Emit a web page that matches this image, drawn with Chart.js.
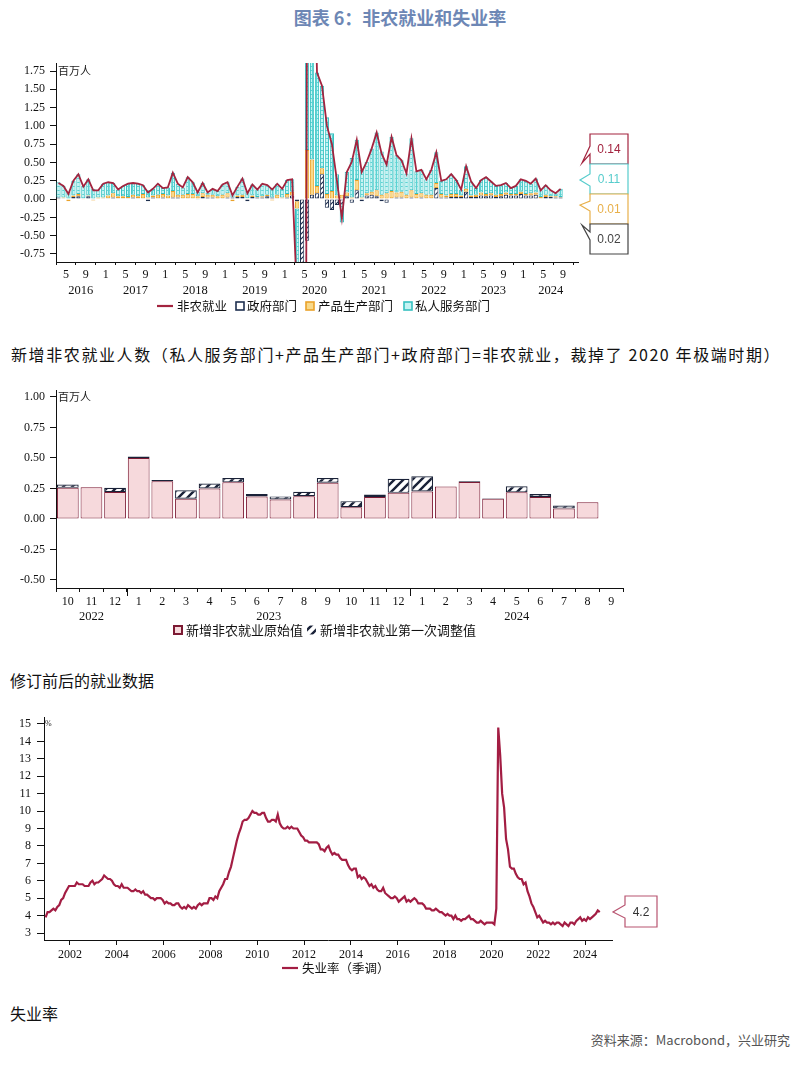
<!DOCTYPE html>
<html>
<head>
<meta charset="utf-8">
<script src="https://cdn.jsdelivr.net/npm/chart.js@4.4.1/dist/chart.umd.min.js"></script>
<style>
  body { margin: 0; background: #fff; width: 800px; height: 1065px; position: relative; overflow: hidden;
         font-family: "Noto Sans CJK SC", sans-serif; }
  .t { position: absolute; white-space: nowrap; color: #111; line-height: 20px; }
  canvas { position: absolute; left: 0; }
</style>
</head>
<body>
<div class="t" style="left:0;width:800px;text-align:center;top:7px;font-size:18px;font-weight:bold;color:#6d87b5">图表 6：非农就业和失业率</div>
<canvas id="c1" width="800" height="275" style="top:50px"></canvas>
<div class="t" style="left:11px;top:344px;font-size:16px;letter-spacing:1.6px">新增非农就业人数（私人服务部门+产品生产部门+政府部门=非农就业，裁掉了 2020 年极端时期）</div>
<canvas id="c2" width="800" height="275" style="top:370px"></canvas>
<div class="t" style="left:10px;top:670px;font-size:16px">修订前后的就业数据</div>
<canvas id="c3" width="800" height="285" style="top:700px"></canvas>
<div class="t" style="left:10px;top:1003px;font-size:16px">失业率</div>
<div class="t" style="right:10px;top:1030px;font-size:13px;color:#555">资料来源：Macrobond，兴业研究</div>

<script>
const SERIF = '"Liberation Serif", "Times New Roman", serif';
const CJK = '"Noto Sans CJK SC", sans-serif';

// ---- chart 1: monthly change, millions, 2016-03 .. 2024-08 ----
const nfpStartYear = 2016;
const nfpStartMonth = 3;
const nfpTotal = [
  0.22, 0.18, 0.07, 0.25, 0.34, 0.17, 0.27, 0.12, 0.12, 0.21,                   // 2016
  0.23, 0.22, 0.13, 0.18, 0.21, 0.22, 0.21, 0.19, 0.09, 0.14, 0.21, 0.15,       // 2017
  0.16, 0.36, 0.21, 0.16, 0.30, 0.23, 0.09, 0.22, 0.09, 0.14, 0.11, 0.20,       // 2018
  0.23, 0.05, 0.17, 0.28, 0.08, 0.20, 0.13, 0.21, 0.19, 0.13, 0.21, 0.14,       // 2019
  0.26, 0.27, -1.37, -20.47, 2.79, 4.78, 1.73, 1.55, 1.00, 0.75, 0.26, -0.26,  // 2020
  0.37, 0.51, 0.81, 0.37, 0.51, 0.69, 0.91, 0.62, 0.47, 0.85, 0.60, 0.53,       // 2021
  0.35, 0.83, 0.38, 0.40, 0.27, 0.40, 0.64, 0.25, 0.27, 0.34, 0.26, 0.13,       // 2022
  0.45, 0.24, 0.15, 0.26, 0.30, 0.24, 0.18, 0.19, 0.22, 0.15, 0.18, 0.27,       // 2023
  0.25, 0.21, 0.28, 0.12, 0.19, 0.12, 0.08, 0.14                                // 2024
];
const nfpGov = [
  0.02, 0.01, 0.00, 0.03, 0.04, 0.01, 0.04, -0.01, 0.00, 0.01,
  0.01, 0.02, 0.01, 0.01, 0.01, 0.02, 0.01, 0.01, -0.03, 0.02, 0.01, 0.02,
  0.01, 0.02, 0.02, 0.01, 0.01, 0.01, -0.01, 0.03, 0.02, 0.02, 0.00, 0.01,
  0.02, 0.02, 0.03, 0.03, -0.03, 0.03, 0.02, 0.02, 0.04, 0.02, 0.01, 0.01,
  0.02, 0.05, -0.03, -0.98, -0.57, 0.06, 0.08, 0.34, -0.12, -0.15, -0.08, -0.07,
  0.04, -0.05, 0.12, -0.03, 0.05, 0.06, 0.04, -0.03, -0.05, 0.01, 0.02, 0.02,
  0.01, 0.02, 0.01, 0.02, 0.01, 0.01, 0.15, 0.02, 0.02, 0.03, 0.03, 0.03,
  0.10, 0.03, 0.03, 0.05, 0.04, 0.05, 0.03, 0.04, 0.06, 0.05, 0.05, 0.07,
  0.05, 0.05, 0.06, 0.01, 0.03, 0.03, 0.02, 0.02
];
const nfpGoods = [
  -0.01, 0.01, -0.03, 0.02, 0.03, -0.01, 0.01, -0.01, 0.02, 0.01,
  0.04, 0.06, 0.03, 0.03, 0.02, 0.04, 0.03, 0.06, 0.02, 0.03, 0.05, 0.05,
  0.04, 0.09, 0.04, 0.05, 0.06, 0.06, 0.04, 0.05, 0.04, 0.04, 0.04, 0.05,
  0.06, -0.03, 0.02, 0.03, 0.01, 0.02, 0.01, 0.02, 0.02, -0.02, 0.05, 0.01,
  0.05, 0.05, -0.10, -2.35, 0.67, 0.48, 0.10, 0.08, 0.07, 0.11, 0.05, 0.06,
  0.05, 0.02, 0.14, 0.02, 0.03, 0.04, 0.08, 0.06, 0.08, 0.10, 0.07, 0.08,
  0.05, 0.10, 0.06, 0.06, 0.05, 0.05, 0.07, 0.05, 0.03, 0.04, 0.04, 0.02,
  0.04, 0.02, 0.03, 0.04, 0.03, 0.03, 0.03, 0.03, 0.03, 0.02, 0.02, 0.03,
  0.02, 0.03, 0.03, 0.02, 0.03, 0.01, 0.02, 0.01
];
const nfpServices = [
  0.21, 0.16, 0.10, 0.20, 0.27, 0.17, 0.22, 0.14, 0.10, 0.19,
  0.18, 0.14, 0.09, 0.14, 0.18, 0.16, 0.17, 0.12, 0.10, 0.09, 0.15, 0.08,
  0.11, 0.25, 0.15, 0.10, 0.23, 0.16, 0.06, 0.14, 0.03, 0.08, 0.07, 0.14,
  0.15, 0.06, 0.12, 0.22, 0.10, 0.15, 0.10, 0.17, 0.13, 0.13, 0.15, 0.12,
  0.19, 0.17, -1.24, -17.14, 2.69, 4.24, 1.55, 1.13, 1.05, 0.79, 0.29, -0.25,
  0.28, 0.54, 0.55, 0.38, 0.43, 0.59, 0.79, 0.59, 0.44, 0.74, 0.51, 0.43,
  0.29, 0.71, 0.31, 0.32, 0.21, 0.34, 0.42, 0.18, 0.22, 0.27, 0.19, 0.08,
  0.31, 0.19, 0.09, 0.17, 0.23, 0.16, 0.12, 0.12, 0.13, 0.08, 0.11, 0.17,
  0.18, 0.13, 0.19, 0.09, 0.13, 0.08, 0.04, 0.11
];
const nfpAxisMonths = 105;            // axis runs 2016-03 .. 2024-12
const nfpTickMonths = [1, 5, 9];
const nfpYears = [2016, 2017, 2018, 2019, 2020, 2021, 2022, 2023, 2024];
const nfpYTicks = [-0.75, -0.5, -0.25, 0, 0.25, 0.5, 0.75, 1, 1.25, 1.5, 1.75];

// ---- chart 2: first print vs first revision, millions ----
const revCats = ['2022-10', '2022-11', '2022-12',
  '2023-01', '2023-02', '2023-03', '2023-04', '2023-05', '2023-06',
  '2023-07', '2023-08', '2023-09', '2023-10', '2023-11', '2023-12',
  '2024-01', '2024-02', '2024-03', '2024-04', '2024-05', '2024-06',
  '2024-07', '2024-08', '2024-09'];
const revFirst = [0.255, 0.26, 0.22, 0.50, 0.31, 0.165, 0.25, 0.30, 0.185, 0.16, 0.187, 0.297,
  0.096, 0.18, 0.214, 0.226, 0.267, 0.303, 0.165, 0.218, 0.18, 0.085, 0.136];
const revAdjust = [0.028, null, 0.035, 0.012, 0.01, 0.07, 0.04, 0.035, 0.02, 0.025, 0.035, 0.038,
  0.05, 0.02, 0.116, 0.123, null, 0.006, 0.005, 0.05, 0.025, 0.025, null];
const revYTicks = [-0.5, -0.25, 0, 0.25, 0.5, 0.75, 1];

// ---- chart 3: unemployment rate (SA), %, 2000-12 .. 2024-08 ----
const urStartYear = 2000;
const urStartMonth = 12;
const urate = [
  3.9,
  4.2, 4.2, 4.3, 4.4, 4.3, 4.5, 4.6, 4.9, 5.0, 5.3, 5.5, 5.7,   // 2001
  5.7, 5.7, 5.7, 5.9, 5.8, 5.8, 5.8, 5.7, 5.7, 5.7, 5.9, 6.0,   // 2002
  5.8, 5.9, 5.9, 6.0, 6.1, 6.3, 6.2, 6.1, 6.1, 6.0, 5.8, 5.7,   // 2003
  5.7, 5.6, 5.8, 5.6, 5.6, 5.6, 5.5, 5.4, 5.4, 5.5, 5.4, 5.4,   // 2004
  5.3, 5.4, 5.2, 5.2, 5.1, 5.0, 5.0, 4.9, 5.0, 5.0, 5.0, 4.9,   // 2005
  4.7, 4.8, 4.7, 4.7, 4.6, 4.6, 4.7, 4.7, 4.5, 4.4, 4.5, 4.4,   // 2006
  4.6, 4.5, 4.4, 4.5, 4.4, 4.6, 4.7, 4.6, 4.7, 4.7, 4.7, 5.0,   // 2007
  5.0, 4.9, 5.1, 5.0, 5.4, 5.6, 5.8, 6.1, 6.1, 6.5, 6.8, 7.3,   // 2008
  7.8, 8.3, 8.7, 9.0, 9.4, 9.5, 9.5, 9.6, 9.8, 10.0, 9.9, 9.9,  // 2009
  9.8, 9.8, 9.9, 9.9, 9.6, 9.4, 9.4, 9.5, 9.5, 9.4, 9.8, 9.3,   // 2010
  9.1, 9.0, 9.0, 9.1, 9.0, 9.1, 9.0, 9.0, 9.0, 8.8, 8.6, 8.5,   // 2011
  8.3, 8.3, 8.2, 8.2, 8.2, 8.2, 8.2, 8.1, 7.8, 7.8, 7.7, 7.9,   // 2012
  8.0, 7.7, 7.5, 7.6, 7.5, 7.5, 7.3, 7.2, 7.2, 7.2, 6.9, 6.7,   // 2013
  6.6, 6.7, 6.7, 6.2, 6.3, 6.1, 6.2, 6.1, 5.9, 5.7, 5.8, 5.6,   // 2014
  5.7, 5.5, 5.4, 5.4, 5.6, 5.3, 5.2, 5.1, 5.0, 5.0, 5.1, 5.0,   // 2015
  4.8, 4.9, 5.0, 5.1, 4.8, 4.9, 4.8, 4.9, 5.0, 4.9, 4.7, 4.7,   // 2016
  4.7, 4.6, 4.4, 4.4, 4.4, 4.3, 4.3, 4.4, 4.3, 4.2, 4.2, 4.1,   // 2017
  4.0, 4.1, 4.0, 4.0, 3.8, 4.0, 3.8, 3.8, 3.7, 3.8, 3.8, 3.9,   // 2018
  4.0, 3.8, 3.8, 3.7, 3.6, 3.6, 3.7, 3.6, 3.5, 3.6, 3.6, 3.6,   // 2019
  3.6, 3.5, 4.4, 14.8, 13.2, 11.0, 10.2, 8.4, 7.8, 6.8, 6.7, 6.7, // 2020
  6.4, 6.2, 6.1, 6.1, 5.8, 5.9, 5.4, 5.1, 4.7, 4.5, 4.2, 3.9,   // 2021
  4.0, 3.8, 3.6, 3.7, 3.6, 3.6, 3.5, 3.6, 3.5, 3.6, 3.6, 3.5,   // 2022
  3.4, 3.6, 3.5, 3.4, 3.6, 3.6, 3.5, 3.7, 3.8, 3.9, 3.7, 3.8,   // 2023
  3.7, 3.9, 3.8, 3.9, 4.0, 4.1, 4.3, 4.2                        // 2024
];
const urYearTicks = [2002, 2004, 2006, 2008, 2010, 2012, 2014, 2016, 2018, 2020, 2022, 2024];
const urYTicks = [3, 4, 5, 6, 7, 8, 9, 10, 11, 12, 13, 14, 15];

// ---------- helpers ----------
function stripes(bg, fg, size, lw) {
  const c = document.createElement('canvas');
  c.width = c.height = size;
  const x = c.getContext('2d');
  x.fillStyle = bg;
  x.fillRect(0, 0, size, size);
  x.strokeStyle = fg;
  x.lineWidth = lw;
  x.beginPath();
  x.moveTo(-1, size + 1); x.lineTo(size + 1, -1);
  x.moveTo(-size / 2, size / 2); x.lineTo(size / 2, -size / 2);
  x.moveTo(size / 2, size * 1.5); x.lineTo(size * 1.5, size / 2);
  x.stroke();
  return x.createPattern(c, 'repeat');
}
function gridFill(bg, fg, size) {
  const c = document.createElement('canvas');
  c.width = c.height = size;
  const x = c.getContext('2d');
  x.fillStyle = bg;
  x.fillRect(0, 0, size, size);
  x.fillStyle = fg;
  x.fillRect(0, 0, size, 1);
  x.fillRect(0, 0, 1, size);
  return x.createPattern(c, 'repeat');
}
function monthOf(start, idx) { return ((start - 1 + idx) % 12 + 12) % 12 + 1; }

function legendItem(ctx, it, y) {
  ctx.save();
  if (it.kind === 'line') {
    ctx.strokeStyle = it.color;
    ctx.lineWidth = 2.2;
    ctx.beginPath(); ctx.moveTo(it.x, y); ctx.lineTo(it.x + it.w, y); ctx.stroke();
  } else {
    ctx.fillStyle = it.fill;
    ctx.fillRect(it.x, y - it.s / 2, it.s, it.s);
    ctx.strokeStyle = it.stroke;
    ctx.lineWidth = it.lw || 1.6;
    ctx.strokeRect(it.x, y - it.s / 2, it.s, it.s);
  }
  ctx.fillStyle = '#111';
  ctx.font = it.font;
  ctx.textAlign = 'left';
  ctx.textBaseline = 'middle';
  ctx.fillText(it.label, it.tx, y);
  ctx.restore();
}

// box with a speech tail on its left side
function callout(ctx, b) {
  ctx.save();
  ctx.beginPath();
  ctx.moveTo(b.x, b.y);
  ctx.lineTo(b.x + b.w, b.y);
  ctx.lineTo(b.x + b.w, b.y + b.h);
  ctx.lineTo(b.x, b.y + b.h);
  ctx.lineTo(b.x, b.y + b.t2);
  ctx.lineTo(b.tipX, b.y + b.tipY);
  ctx.lineTo(b.x, b.y + b.t1);
  ctx.closePath();
  ctx.fillStyle = '#fff';
  ctx.fill();
  ctx.strokeStyle = b.color;
  ctx.lineWidth = 1.2;
  ctx.stroke();
  ctx.fillStyle = b.textColor || b.color;
  ctx.font = '12px "Liberation Sans", Arial, sans-serif';
  ctx.textAlign = 'center';
  ctx.textBaseline = 'middle';
  ctx.fillText(b.text, b.x + b.w / 2, b.y + b.h / 2 + 1);
  ctx.restore();
}

const tickFont = { family: SERIF, size: 12 };
const axisBorder = { display: true, color: '#111', width: 1 };
const noGrid = { drawOnChartArea: false, drawTicks: true, color: '#111', tickLength: 5 };

Chart.defaults.animation = false;
Chart.defaults.color = '#111';

// ---------- chart 1 ----------
const RED = '#a3243f';
const govFill = stripes('#ffffff', '#1e2f4f', 5, 1.2);
const goodsFill = '#f9d98a';
const servFill = gridFill('#c4f3f3', '#5bd3d3', 4);

const toPts = arr => arr.map((v, i) => ({ x: i + 0.5, y: v }));
const nfpTicks = [];
for (let i = 0; i <= nfpAxisMonths; i++) {
  if (nfpTickMonths.includes(monthOf(nfpStartMonth, i))) nfpTicks.push(i);
}

const nfpExtras = {
  id: 'nfpExtras',
  afterDraw(chart) {
    const { ctx, chartArea: a, scales: { x, y } } = chart;
    ctx.save();
    ctx.fillStyle = '#222';
    ctx.font = '11px ' + CJK;
    ctx.textAlign = 'left';
    ctx.textBaseline = 'middle';
    ctx.fillText('百万人', a.left + 2, y.getPixelForValue(1.75));

    ctx.font = '12.5px ' + SERIF;
    ctx.textAlign = 'center';
    ctx.fillStyle = '#111';
    nfpYears.forEach(yr => {
      const jan = (yr - nfpStartYear) * 12 - (nfpStartMonth - 1);
      const from = Math.max(x.min, jan);
      const to = Math.min(x.max, jan + 12);
      ctx.fillText(String(yr), x.getPixelForValue((from + to) / 2), a.bottom + 29);
    });

    const ds = chart.data.datasets;
    const lf = '12.5px ' + CJK;
    const ly = a.bottom + 44;
    legendItem(ctx, { kind: 'line', x: 157, w: 16, color: RED, label: ds[0].label, tx: 177, font: lf }, ly);
    legendItem(ctx, { kind: 'box', x: 236, s: 8, fill: '#fff', stroke: '#1e2f4f', label: ds[1].label, tx: 247, font: lf }, ly);
    legendItem(ctx, { kind: 'box', x: 306, s: 8, fill: goodsFill, stroke: '#eaa22a', label: ds[2].label, tx: 318, font: lf }, ly);
    legendItem(ctx, { kind: 'box', x: 404, s: 8, fill: '#c4f3f3', stroke: '#35c0c0', label: ds[3].label, tx: 415, font: lf }, ly);

    const last = nfpTotal.length - 1;
    const L = a.right + 12, W = 38, H = 30, T = 84;
    callout(ctx, { x: L, y: T, w: W, h: H, t1: 12, t2: 20, tipX: L - 8, tipY: 29, color: RED, text: nfpTotal[last].toFixed(2) });
    callout(ctx, { x: L, y: T + 30, w: W, h: H, t1: 10, t2: 22, tipX: L - 10, tipY: 16, color: '#56cccc', text: nfpServices[last].toFixed(2) });
    callout(ctx, { x: L, y: T + 60, w: W, h: H, t1: 7, t2: 17, tipX: L - 10, tipY: 11, color: '#e8b04a', text: nfpGoods[last].toFixed(2) });
    callout(ctx, { x: L, y: T + 90, w: W, h: H, t1: 8, t2: 16, tipX: L - 8, tipY: 1, color: '#444', text: nfpGov[last].toFixed(2) });
    ctx.restore();
  }
};

new Chart(document.getElementById('c1'), {
  type: 'bar',
  data: {
    datasets: [
      { type: 'line', label: '非农就业', data: toPts(nfpTotal), borderColor: RED, borderWidth: 1.8,
        pointRadius: 0, tension: 0, stack: 'line', order: 0 },
      { label: '政府部门', data: toPts(nfpGov), backgroundColor: govFill, borderColor: '#1e2f4f',
        borderWidth: 1, borderSkipped: false, stack: 'bars', order: 1, clip: 0 },
      { label: '产品生产部门', data: toPts(nfpGoods), backgroundColor: goodsFill, borderColor: '#eaa22a',
        borderWidth: 1, borderSkipped: false, stack: 'bars', order: 1, clip: 0 },
      { label: '私人服务部门', data: toPts(nfpServices), backgroundColor: servFill, borderColor: '#35c0c0',
        borderWidth: 1, borderSkipped: false, stack: 'bars', order: 1, clip: 0 }
    ]
  },
  options: {
    responsive: false,
    layout: { padding: { top: 13, right: 222, bottom: 43, left: 0 } },
    plugins: { legend: { display: false }, tooltip: { enabled: false } },
    datasets: { bar: { barPercentage: 0.85, categoryPercentage: 1 } },
    scales: {
      x: {
        type: 'linear', min: 0, max: nfpAxisMonths, offset: false, stacked: true,
        border: axisBorder, grid: { ...noGrid, tickLength: 3 },
        ticks: { font: tickFont, padding: 3, autoSkip: false, maxRotation: 0,
                 callback: v => String(monthOf(nfpStartMonth, v)) },
        afterBuildTicks: s => { s.ticks = nfpTicks.map(v => ({ value: v })); },
        afterFit: s => { s.height = 20; }
      },
      y: {
        min: -0.86, max: 1.86, stacked: true,
        border: axisBorder, grid: { ...noGrid, tickLength: 6 },
        ticks: { font: tickFont, padding: 5, callback: v => v.toFixed(2) },
        afterBuildTicks: s => { s.ticks = nfpYTicks.map(v => ({ value: v })); },
        afterFit: s => { s.width = 56; }
      }
    }
  },
  plugins: [nfpExtras]
});

// ---------- chart 2 ----------
const PINK = '#f6d9dc';
const PINK_EDGE = '#7c1a33';
const NAVY = '#1a2238';
const revHatch = stripes('#ffffff', NAVY, 9, 2.4);

const revExtras = {
  id: 'revExtras',
  afterDraw(chart) {
    const { ctx, chartArea: a, scales: { x, y } } = chart;
    ctx.save();
    ctx.fillStyle = '#222';
    ctx.font = '11px ' + CJK;
    ctx.textBaseline = 'middle';
    ctx.textAlign = 'left';
    ctx.fillText('百万人', a.left + 2, y.getPixelForValue(1));

    // year labels under the month labels, plus longer ticks at year breaks
    const groups = {};
    revCats.forEach((c, i) => {
      const yr = c.slice(0, 4);
      if (!groups[yr]) groups[yr] = [i, i];
      groups[yr][1] = i;
    });
    ctx.font = '12.5px ' + SERIF;
    ctx.textAlign = 'center';
    ctx.fillStyle = '#111';
    ctx.strokeStyle = '#111';
    ctx.lineWidth = 1;
    Object.keys(groups).forEach(yr => {
      const [f, l] = groups[yr];
      ctx.fillText(yr, (x.getPixelForValue(f) + x.getPixelForValue(l)) / 2, a.bottom + 29);
      if (f > 0) {
        const px = Math.round((x.getPixelForValue(f - 1) + x.getPixelForValue(f)) / 2) + 0.5;
        ctx.beginPath(); ctx.moveTo(px, a.bottom); ctx.lineTo(px, a.bottom + 8); ctx.stroke();
      }
    });

    const ds = chart.data.datasets;
    const lf = '13px ' + CJK;
    const ly = a.bottom + 42;
    legendItem(ctx, { kind: 'box', x: 174, s: 8, fill: PINK, stroke: PINK_EDGE, lw: 2, label: ds[0].label, tx: 186, font: lf }, ly);
    legendItem(ctx, { kind: 'box', x: 307, s: 9, fill: revHatch, stroke: '#fff', lw: 0.1, label: ds[1].label, tx: 320, font: lf }, ly);
    ctx.restore();
  }
};

new Chart(document.getElementById('c2'), {
  type: 'bar',
  data: {
    labels: revCats,
    datasets: [
      { label: '新增非农就业原始值', data: revFirst, backgroundColor: PINK, borderColor: PINK_EDGE,
        borderWidth: 1, borderSkipped: false, stack: 's' },
      { label: '新增非农就业第一次调整值', data: revAdjust, backgroundColor: revHatch, borderColor: NAVY,
        borderWidth: 1.2, borderSkipped: false, stack: 's' }
    ]
  },
  options: {
    responsive: false,
    layout: { padding: { top: 20, right: 177, bottom: 35, left: 0 } },
    plugins: { legend: { display: false }, tooltip: { enabled: false } },
    datasets: { bar: { barPercentage: 0.92, categoryPercentage: 1 } },
    scales: {
      x: {
        stacked: true, border: axisBorder, grid: { ...noGrid, offset: true, tickLength: 4 },
        ticks: { font: tickFont, padding: 3, autoSkip: false, maxRotation: 0,
                 callback: function (v) { return String(parseInt(this.getLabelForValue(v).slice(5), 10)); } },
        afterFit: s => { s.height = 22; }
      },
      y: {
        min: -0.566, max: 1.057, stacked: true,
        border: axisBorder, grid: { ...noGrid, tickLength: 6 },
        ticks: { font: tickFont, padding: 5, callback: v => v.toFixed(2) },
        afterBuildTicks: s => { s.ticks = revYTicks.map(v => ({ value: v })); },
        afterFit: s => { s.width = 56; }
      }
    }
  },
  plugins: [revExtras]
});

// ---------- chart 3 ----------
const UR_RED = '#a31d43';
const urPts = urate.map((v, i) => {
  const m = urStartMonth - 1 + i;
  return { x: urStartYear + Math.floor(m / 12) + ((m % 12) + 0.5) / 12, y: v };
});

const urExtras = {
  id: 'urExtras',
  afterDraw(chart) {
    const { ctx, chartArea: a } = chart;
    ctx.save();
    ctx.fillStyle = '#222';
    ctx.font = '8px ' + SERIF;
    ctx.textAlign = 'left';
    ctx.textBaseline = 'middle';
    ctx.fillText('%', a.left + 1, a.top + 7);

    legendItem(ctx, { kind: 'line', x: 282, w: 16, color: UR_RED, label: chart.data.datasets[0].label,
                      tx: 302, font: '12.5px ' + CJK }, a.bottom + 28);

    const last = urate[urate.length - 1];
    callout(ctx, { x: a.right + 13, y: 196, w: 32, h: 31, t1: 9, t2: 22, tipX: a.right + 1, tipY: 16,
                   color: '#b85470', textColor: '#333', text: last.toFixed(1) });
    ctx.restore();
  }
};

new Chart(document.getElementById('c3'), {
  type: 'line',
  data: {
    datasets: [
      { label: '失业率（季调）', data: urPts, borderColor: UR_RED, borderWidth: 2.2, pointRadius: 0, tension: 0 }
    ]
  },
  options: {
    responsive: false,
    layout: { padding: { top: 17, right: 188, bottom: 21, left: 0 } },
    plugins: { legend: { display: false }, tooltip: { enabled: false } },
    scales: {
      x: {
        type: 'linear', min: 2000.89, max: 2025.15,
        border: axisBorder, grid: { ...noGrid, tickLength: 5 },
        ticks: { font: tickFont, padding: 3, autoSkip: false, maxRotation: 0, callback: v => String(v) },
        afterBuildTicks: s => { s.ticks = urYearTicks.map(v => ({ value: v })); },
        afterFit: s => { s.height = 24; }
      },
      y: {
        min: 2.6, max: 15.4,
        border: axisBorder, grid: { ...noGrid, tickLength: 7 },
        ticks: { font: tickFont, padding: 6, callback: v => String(v) },
        afterBuildTicks: s => { s.ticks = urYTicks.map(v => ({ value: v })); },
        afterFit: s => { s.width = 44; }
      }
    }
  },
  plugins: [urExtras]
});
</script>
</body>
</html>
